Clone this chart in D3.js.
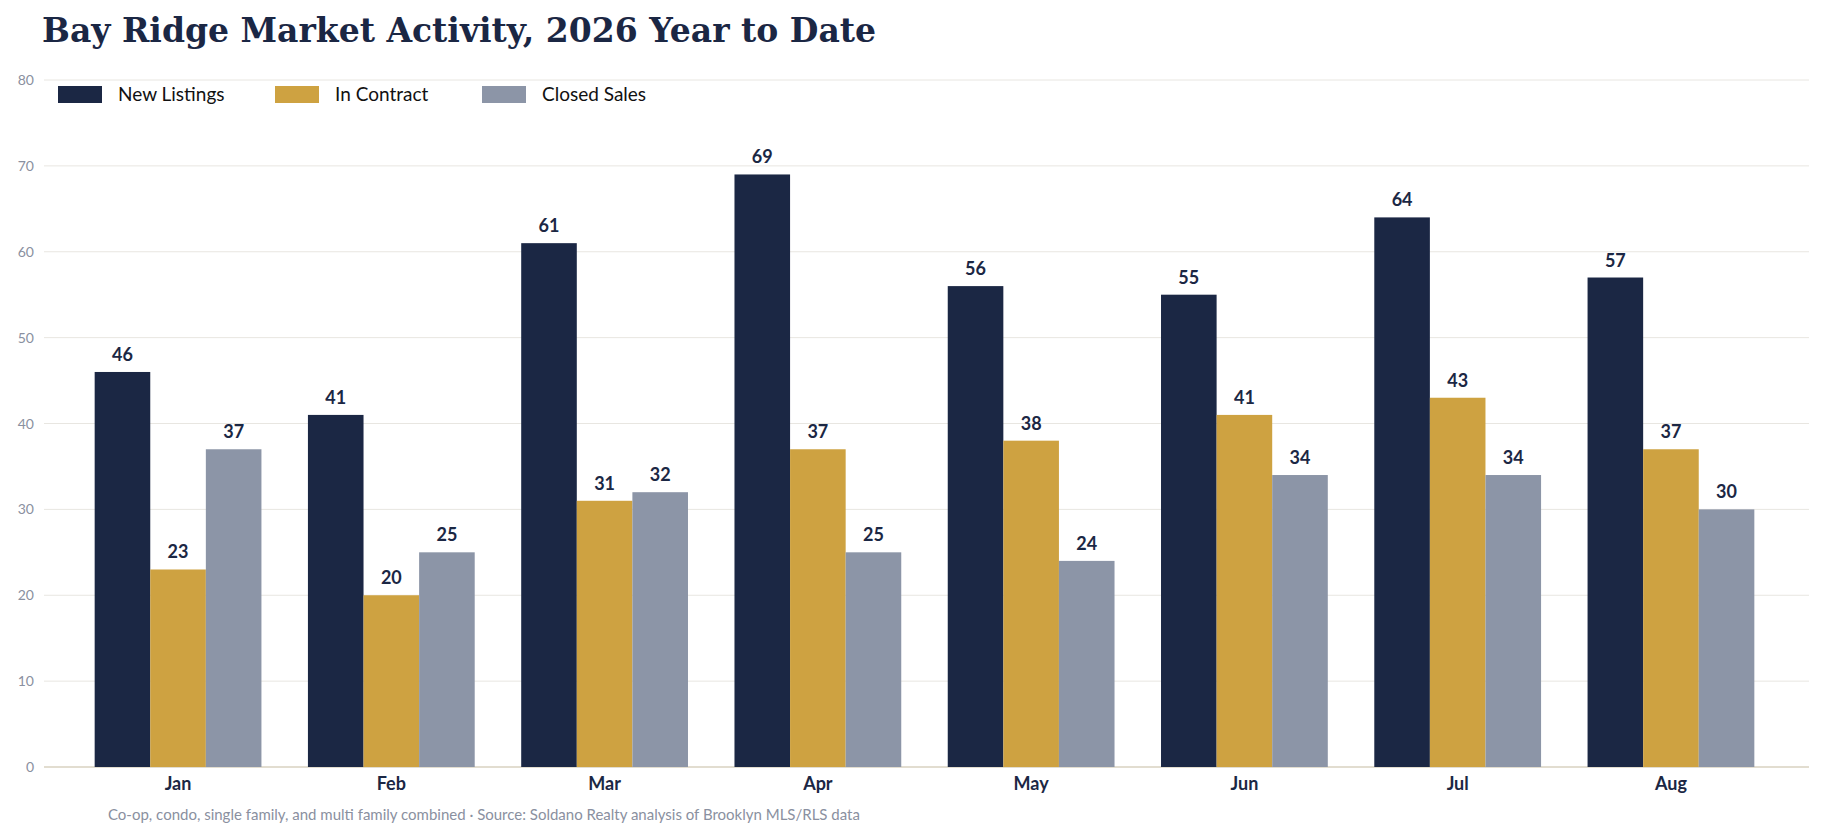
<!DOCTYPE html><html><head><meta charset="utf-8"><script src="https://cdn.jsdelivr.net/npm/d3@7"></script>
<style>body{margin:0;background:#fff}svg{display:block}</style></head><body><svg id="c" width="1823" height="831"></svg>
<script>
const months=["Jan","Feb","Mar","Apr","May","Jun","Jul","Aug"];
const series=["New Listings","In Contract","Closed Sales"];
const newListings=[46,41,61,69,56,55,64,57];
const inContract=[23,20,31,37,38,41,43,37];
const closedSales=[37,25,32,25,24,34,34,30];
const yTicks=[0,10,20,30,40,50,60,70,80];
const colors=["#1b2744","#cea241","#8c95a7"];
const vals=[newListings,inContract,closedSales];
const svg=d3.select("#c");
const F="Lato, 'Open Sans', sans-serif";
const x=d3.scaleBand().domain(months).range([84,1765]).paddingInner(0.218).paddingOuter(0.05);
const xs=d3.scaleBand().domain(series).range([0,x.bandwidth()]);
const y=d3.scaleLinear().domain([0,80]).range([767,80]);
svg.append("text").attr("x",42).attr("y",42).attr("font-family","'DejaVu Serif', serif").attr("font-weight","bold").attr("font-size",33).attr("fill","#1b2744").text("Bay Ridge Market Activity, 2026 Year to Date");
const g=svg.append("g");
g.selectAll("line.grid").data(yTicks).join("line").attr("x1",44).attr("x2",1809).attr("y1",d=>y(d)).attr("y2",d=>y(d)).attr("stroke",d=>d===0?"#e2ddd0":"#e8e6e1").attr("stroke-width",d=>d===0?2:1);
g.selectAll("text.yt").data(yTicks).join("text").attr("x",34).attr("y",d=>y(d)+5).attr("text-anchor","end").attr("font-family",F).attr("font-size",14).attr("fill","#8a90a0").text(d=>d);
series.forEach((s,i)=>{
  const gg=svg.append("g");
  gg.selectAll("rect").data(months).join("rect").attr("x",m=>x(m)+xs(s)).attr("width",xs.bandwidth()).attr("y",(m,j)=>y(vals[i][j])).attr("height",(m,j)=>y(0)-y(vals[i][j])).attr("fill",colors[i]);
  gg.selectAll("text").data(months).join("text").attr("x",m=>x(m)+xs(s)+xs.bandwidth()/2).attr("y",(m,j)=>y(vals[i][j])-11).attr("text-anchor","middle").attr("font-family",F).attr("font-weight","bold").attr("font-size",18).attr("fill","#1b2744").text((m,j)=>vals[i][j]);
});
const xa=svg.append("g").attr("transform","translate(0,767)").call(d3.axisBottom(x).tickSize(0).tickPadding(10));
xa.select(".domain").remove();
xa.selectAll("text").attr("font-family",F).attr("font-weight","bold").attr("font-size",18).attr("fill","#1b2744");
const lx=[58,275,482];
series.forEach((s,i)=>{
  svg.append("rect").attr("x",lx[i]).attr("y",86).attr("width",44).attr("height",17).attr("fill",colors[i]);
  svg.append("text").attr("x",lx[i]+60).attr("y",101).attr("font-family",F).attr("font-size",19).attr("fill","#111").text(s);
});
svg.append("text").attr("x",108).attr("y",820).attr("font-family",F).attr("font-size",15).attr("fill","#8a90a0").text("Co-op, condo, single family, and multi family combined · Source: Soldano Realty analysis of Brooklyn MLS/RLS data");
</script></body></html>
